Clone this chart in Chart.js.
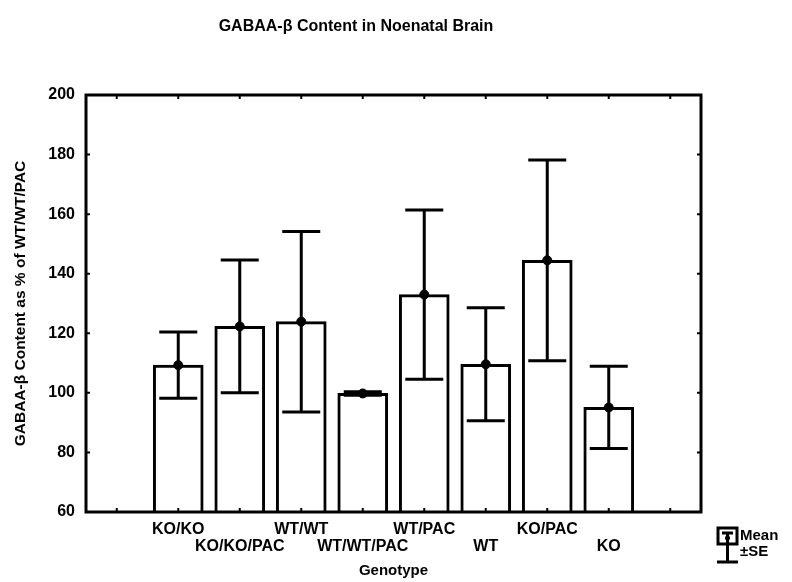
<!DOCTYPE html>
<html><head><meta charset="utf-8">
<script src="https://cdn.jsdelivr.net/npm/chart.js@4/dist/chart.umd.min.js"></script>
<style>html,body{margin:0;padding:0;background:#fff}#wrap{width:792px;height:582px}</style>
</head><body><div id="wrap"><canvas id="c" width="792" height="582"></canvas></div>
<script>
const categories = ['KO/KO','KO/KO/PAC','WT/WT','WT/WT/PAC','WT/PAC','WT','KO/PAC','KO'];
const means = [109.3,122.3,123.9,99.8,133.0,109.6,144.5,95.1];
const se = [11.1,22.3,30.3,0.6,28.4,19.0,33.7,13.8];
const yTicks = [60,80,100,120,140,160,180,200];
const titleText = 'GABAA-\u03B2 Content in Noenatal Brain';
const yTitle = 'GABAA-\u03B2 Content as % of WT/WT/PAC';
const xTitle = 'Genotype';
const legendLabels = ['Mean','\u00B1SE'];

const FONT = 'Liberation Sans, Arial, sans-serif';
// one blank slot on each side of the bars
const slotLabels = [''].concat(categories.map((c,i)=> i%2===0 ? [c,''] : ['',c])).concat(['']);
const barData = [null].concat(means).concat([null]);
const seData = [null].concat(se).concat([null]);

const errorBars = {
  id:'errorBars',
  afterDatasetDraw(chart,args){
    if(args.index!==0) return;
    const ctx=chart.ctx, x=chart.scales.x, y=chart.scales.y;
    ctx.save();
    ctx.strokeStyle='#000'; ctx.lineWidth=3; ctx.lineCap='butt';
    barData.forEach((m,i)=>{
      if(m===null) return;
      const px=x.getPixelForValue(i);
      const hi=y.getPixelForValue(m+seData[i]), lo=y.getPixelForValue(m-seData[i]);
      ctx.beginPath();
      ctx.moveTo(px,hi); ctx.lineTo(px,lo);
      ctx.moveTo(px-19,hi); ctx.lineTo(px+19,hi);
      ctx.moveTo(px-19,lo); ctx.lineTo(px+19,lo);
      ctx.stroke();
    });
    ctx.restore();
  }
};

const frame = {
  id:'frame',
  afterDraw(chart){
    const ctx=chart.ctx, a=chart.chartArea, x=chart.scales.x, y=chart.scales.y;
    ctx.save();
    ctx.strokeStyle='#000'; ctx.lineWidth=3;
    ctx.strokeRect(a.left,a.top,a.right-a.left,a.bottom-a.top);
    ctx.lineWidth=2;
    ctx.beginPath();
    yTicks.forEach(v=>{const py=y.getPixelForValue(v);
      ctx.moveTo(a.left,py); ctx.lineTo(a.left+4,py);
      ctx.moveTo(a.right,py); ctx.lineTo(a.right-4,py);});
    slotLabels.forEach((l,i)=>{const px=x.getPixelForValue(i);
      ctx.moveTo(px,a.top); ctx.lineTo(px,a.top+4);
      ctx.moveTo(px,a.bottom); ctx.lineTo(px,a.bottom-4);});
    ctx.stroke();
    // legend
    const lx=718, ly=528;
    ctx.lineWidth=3;
    ctx.strokeRect(lx,ly,19,16);
    ctx.beginPath();
    ctx.moveTo(lx+4,ly+5); ctx.lineTo(lx+15,ly+5);
    ctx.moveTo(lx+9.5,ly+5); ctx.lineTo(lx+9.5,ly+34);
    ctx.moveTo(lx-1,ly+34); ctx.lineTo(lx+20,ly+34);
    ctx.stroke();
    ctx.beginPath(); ctx.arc(lx+9.5,ly+10,2.5,0,Math.PI*2); ctx.fillStyle='#000'; ctx.fill();
    ctx.font='bold 15px '+FONT; ctx.textBaseline='middle'; ctx.textAlign='left';
    ctx.fillText(legendLabels[0],lx+22,ly+8);
    ctx.fillText(legendLabels[1],lx+22,ly+24);
    ctx.restore();
  }
};

new Chart(document.getElementById('c'),{
  type:'bar',
  data:{labels:slotLabels,datasets:[
    {type:'bar',data:barData,backgroundColor:'#fff',borderColor:'#000',borderWidth:3,barThickness:50,order:2},
    {type:'line',data:barData,showLine:false,pointRadius:4.5,pointBackgroundColor:'#000',pointBorderColor:'#000',order:1}
  ]},
  options:{
    responsive:false,animation:false,devicePixelRatio:1,
    layout:{padding:{left:11,right:91,top:0,bottom:0}},
    plugins:{legend:{display:false},tooltip:{enabled:false},
      title:{display:true,text:titleText,color:'#000',font:{family:FONT,weight:'bold',size:16},padding:{top:17,bottom:58.8}}},
    scales:{
      x:{type:'category',offset:true,grid:{display:false,drawTicks:false},border:{display:false},
        ticks:{color:'#000',font:{family:FONT,weight:'bold',size:16,lineHeight:1.05},padding:9,maxRotation:0,autoSkip:false},
        title:{display:true,text:xTitle,color:'#000',font:{family:FONT,weight:'bold',size:15},padding:{top:2,bottom:2}},
        afterFit:s=>{s.height=70;}},
      y:{min:60,max:200,grid:{display:false,drawTicks:false},border:{display:false},
        afterBuildTicks:s=>{s.ticks=yTicks.map(v=>({value:v}));},
        ticks:{color:'#000',font:{family:FONT,weight:'bold',size:16},padding:11},
        title:{display:true,text:yTitle,color:'#000',font:{family:FONT,weight:'bold',size:15.5},padding:{top:0,bottom:0}},
        afterFit:s=>{s.width=75;}}
    }
  },
  plugins:[errorBars,frame]
});
</script></body></html>
